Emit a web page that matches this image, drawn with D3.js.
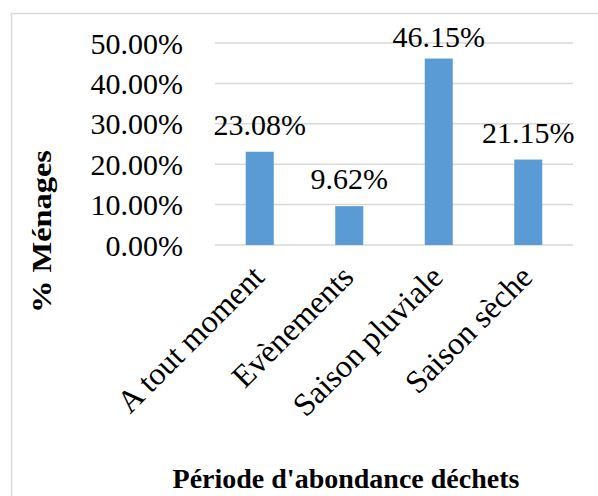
<!DOCTYPE html>
<html>
<head>
<meta charset="utf-8">
<script src="https://cdn.jsdelivr.net/npm/d3@7"></script>
<style>
  body { margin: 0; background: #fff; }
  text { font-family: "Liberation Serif", "Times New Roman", serif; }
</style>
</head>
<body>
<div id="chart"></div>
<script>
// data
const categories = ["A tout moment", "Evènements", "Saison pluviale", "Saison sèche"];
const values = [23.08, 9.62, 46.15, 21.15];
const yTicks = [0, 10, 20, 30, 40, 50];

const width = 598, height = 496;
const margin = {top: 43, right: 25, bottom: 251, left: 215};

const svg = d3.select("#chart")
  .append("svg")
  .attr("width", width)
  .attr("height", height);

// outer frame (only top and left edges show)
svg.append("line")
  .attr("x1", 11).attr("x2", width).attr("y1", 13.5).attr("y2", 13.5)
  .attr("stroke", "#d9d9d9").attr("stroke-width", 1.5);
svg.append("line")
  .attr("x1", 11.5).attr("x2", 11.5).attr("y1", 13).attr("y2", height)
  .attr("stroke", "#d9d9d9").attr("stroke-width", 1.5);

const x = d3.scaleBand()
  .domain(categories)
  .range([margin.left, width - margin.right])
  .paddingInner(0.687)
  .paddingOuter(0.3435);

const y = d3.scaleLinear()
  .domain([0, 50])
  .range([height - margin.bottom, margin.top]);

// gridlines
svg.append("g")
  .selectAll("line")
  .data(yTicks)
  .join("line")
  .attr("x1", margin.left)
  .attr("x2", width - margin.right)
  .attr("y1", d => y(d))
  .attr("y2", d => y(d))
  .attr("stroke", "#d9d9d9")
  .attr("stroke-width", 1.5);

// y tick labels
svg.append("g")
  .selectAll("text")
  .data(yTicks)
  .join("text")
  .attr("x", 183)
  .attr("y", d => y(d))
  .attr("dy", "0.35em")
  .attr("text-anchor", "end")
  .attr("font-size", 30)
  .text(d => d.toFixed(2) + "%");

// bars
const data = categories.map((c, i) => ({cat: c, v: values[i]}));

svg.append("g")
  .selectAll("rect")
  .data(data)
  .join("rect")
  .attr("x", d => x(d.cat))
  .attr("width", x.bandwidth())
  .attr("y", d => y(d.v))
  .attr("height", d => y(0) - y(d.v))
  .attr("fill", "#5b9bd5");

// value labels
svg.append("g")
  .selectAll("text")
  .data(data)
  .join("text")
  .attr("x", d => x(d.cat) + x.bandwidth() / 2)
  .attr("y", d => Math.max(y(d.v) - 17, y(50) + 4))
  .attr("text-anchor", "middle")
  .attr("font-size", 30)
  .text(d => d.v.toFixed(2) + "%");

// category labels, rotated
svg.append("g")
  .selectAll("text")
  .data(categories)
  .join("text")
  .attr("transform", d => `translate(${x(d) + x.bandwidth() / 2 + 6}, ${y(0) + 34}) rotate(-45)`)
  .attr("text-anchor", "end")
  .attr("font-size", 32)
  .text(d => d);

// axis titles
svg.append("text")
  .attr("transform", `translate(51, 231.5) rotate(-90)`)
  .attr("text-anchor", "middle")
  .attr("font-size", 28)
  .attr("font-weight", "bold")
  .attr("textLength", 163)
  .attr("lengthAdjust", "spacingAndGlyphs")
  .text("% Ménages");

svg.append("text")
  .attr("x", 346)
  .attr("y", 488)
  .attr("text-anchor", "middle")
  .attr("font-size", 28)
  .attr("font-weight", "bold")
  .text("Période d'abondance déchets");
</script>
</body>
</html>
